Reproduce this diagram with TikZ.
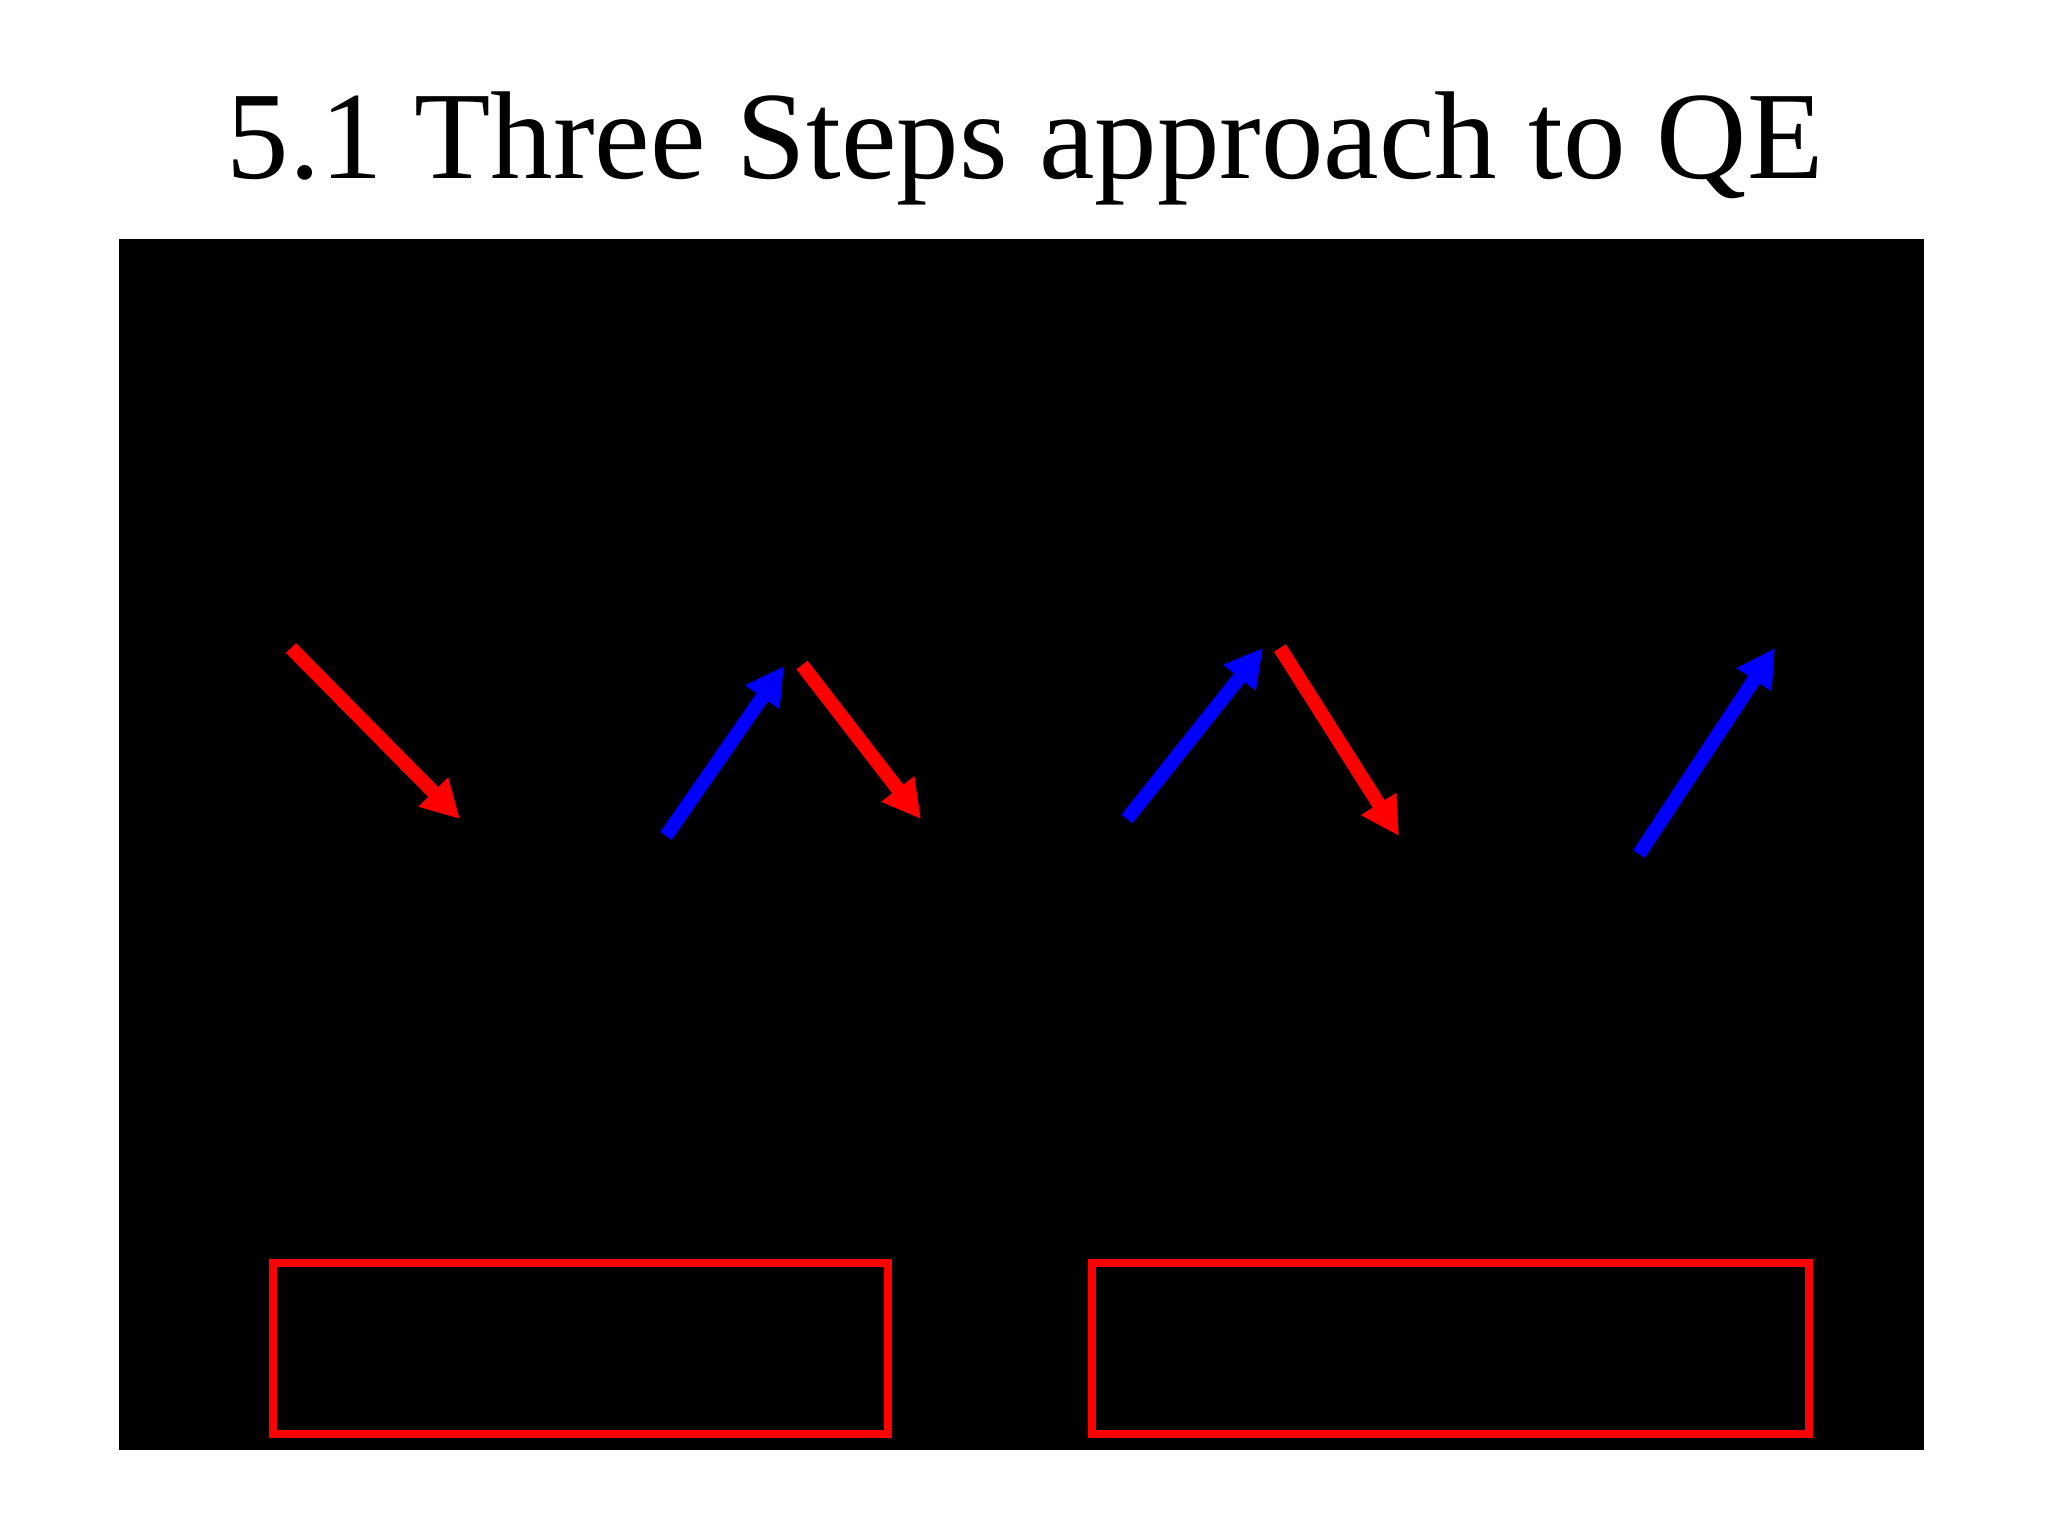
\documentclass[tikz,border=0pt]{standalone}
\usepackage{fontspec}
\setmainfont{Liberation Serif}
\usetikzlibrary{arrows.meta}
\tikzset{
  titletext/.style={font=\fontsize{62.5}{70}\selectfont, inner sep=0pt, anchor=base},
  redarrow/.style={draw={rgb,255:red,255;green,0;blue,0}, line width=7pt, -{Triangle[length=19pt,width=19.5pt]}},
  bluearrow/.style={draw={rgb,255:red,0;green,0;blue,255}, line width=7pt, -{Triangle[length=19pt,width=19.5pt]}},
  redbox/.style={draw={rgb,255:red,255;green,0;blue,0}, line width=3.6pt, inner sep=0pt, minimum height=85.5pt}
}
\begin{document}
\begin{tikzpicture}[x=0.5pt,y=-0.5pt]
\useasboundingbox (0,0) rectangle (2048,1536);
\fill[white] (0,0) rectangle (2048,1536);
\node[titletext] (title) at (1025,178) {5.1 Three Steps approach to QE};
\fill[black] (119,239) rectangle (1924,1450);
% arrows
\coordinate (a1s) at (291,648);  \coordinate (a1e) at (460,819);
\coordinate (a2s) at (666,836);  \coordinate (a2e) at (784,666);
\coordinate (a3s) at (802,665);  \coordinate (a3e) at (921,819);
\coordinate (a4s) at (1127,819); \coordinate (a4e) at (1263,648);
\coordinate (a5s) at (1280,648); \coordinate (a5e) at (1399,836);
\coordinate (a6s) at (1639,854); \coordinate (a6e) at (1775,648);
\draw[redarrow] (a1s) -- (a1e);
\draw[bluearrow] (a2s) -- (a2e);
\draw[redarrow] (a3s) -- (a3e);
\draw[bluearrow] (a4s) -- (a4e);
\draw[redarrow] (a5s) -- (a5e);
\draw[bluearrow] (a6s) -- (a6e);
% boxes
\node[redbox, minimum width=307.5pt] (box1) at (580.5,1348.5) {};
\node[redbox, minimum width=358.5pt] (box2) at (1450.5,1348.5) {};
\end{tikzpicture}
\end{document}
